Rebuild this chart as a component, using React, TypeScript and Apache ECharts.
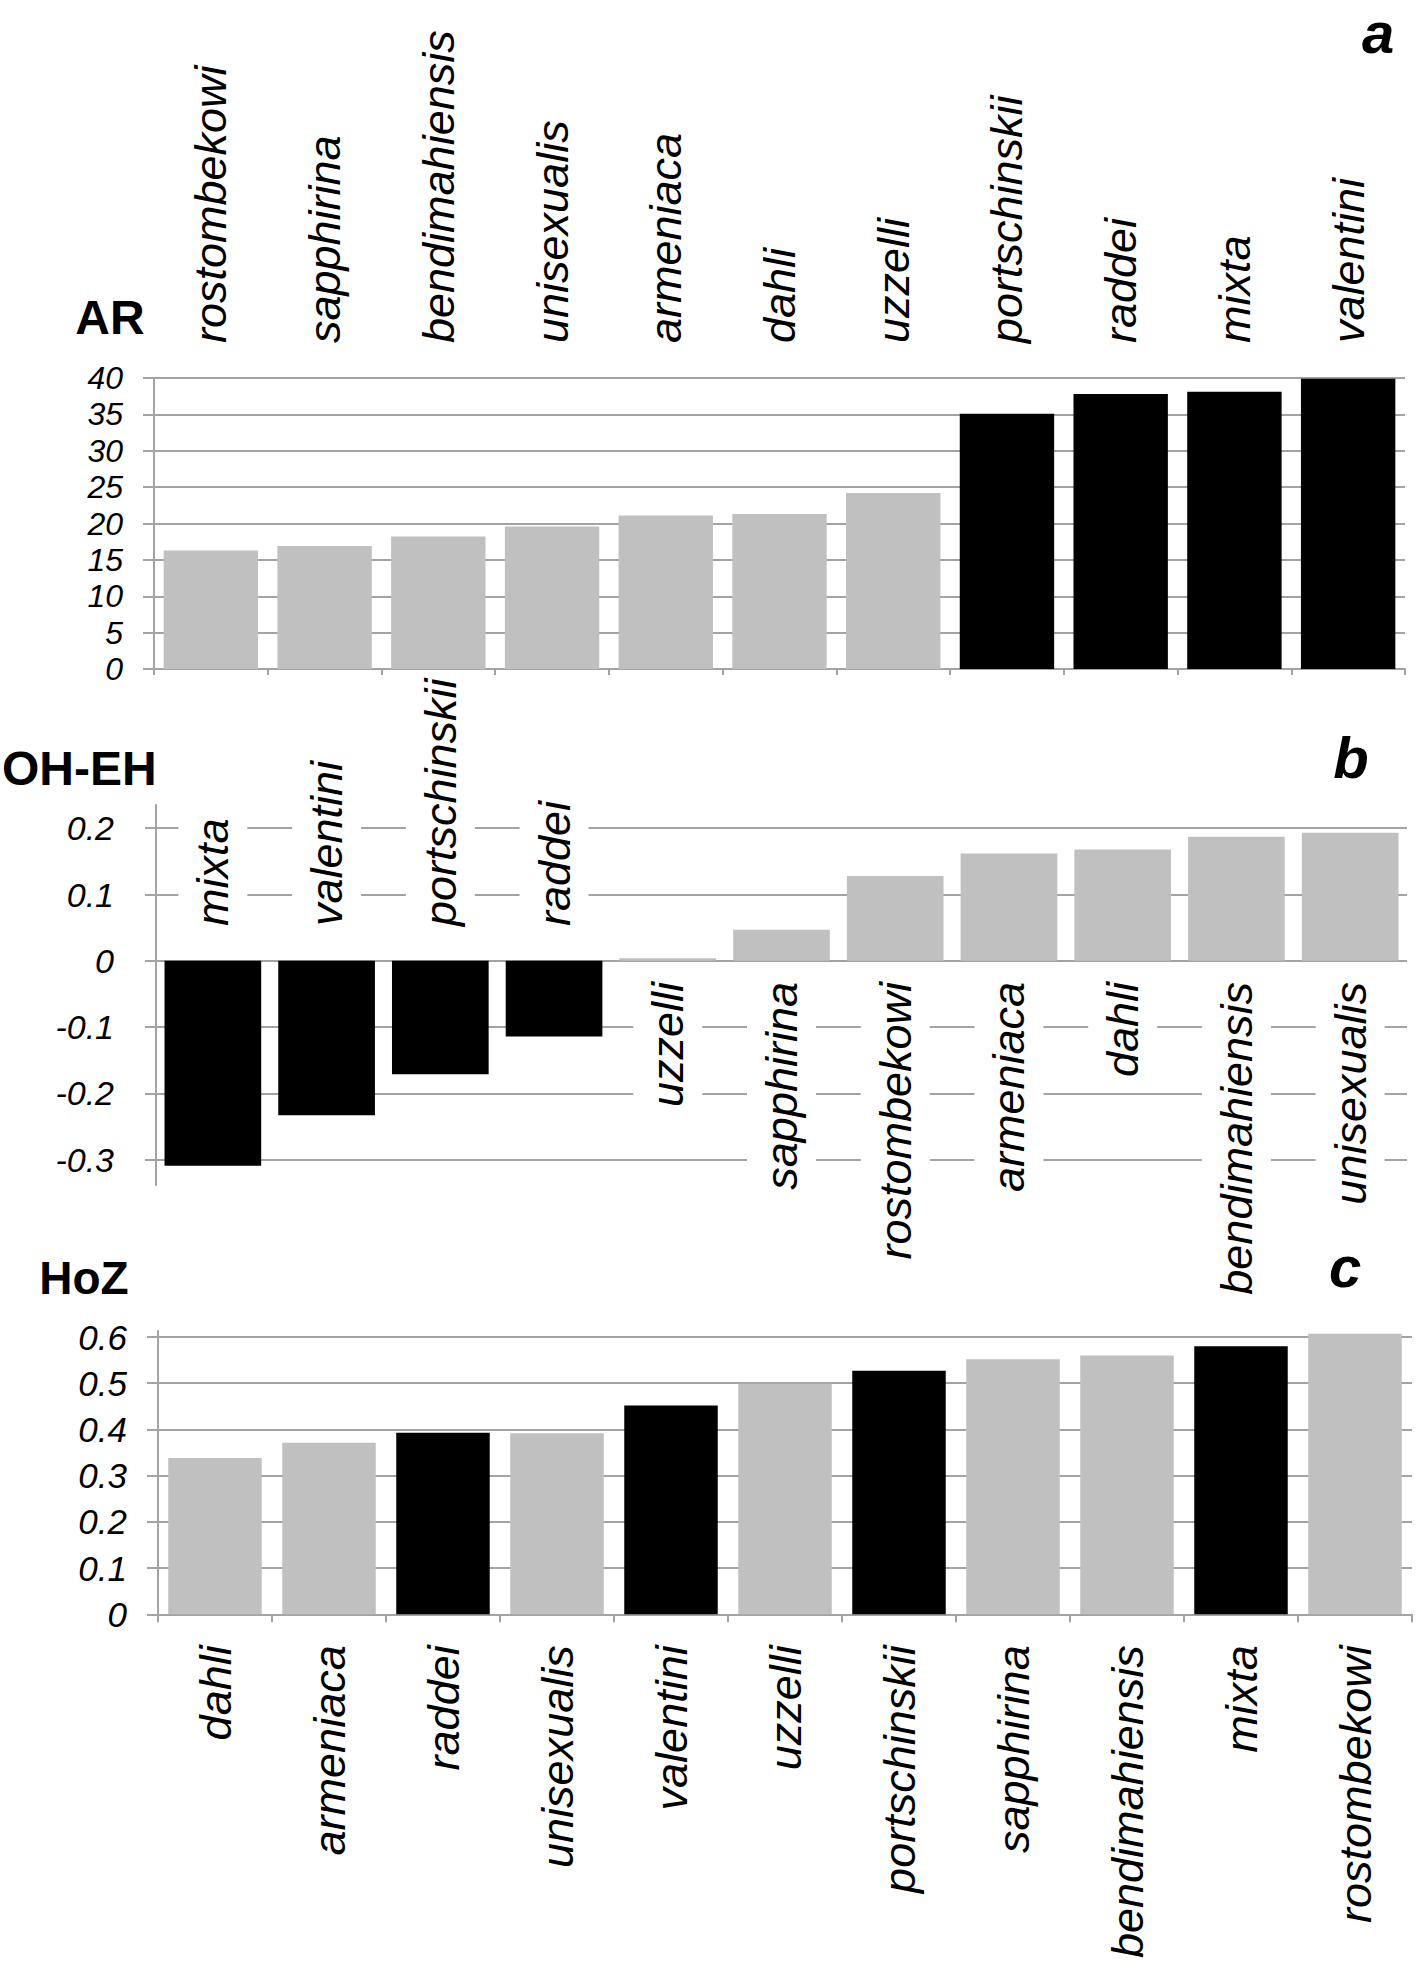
import React, { useEffect, useRef } from 'react';
import * as echarts from 'echarts';

// ---------- data ----------
const arCategories = ['rostombekowi', 'sapphirina', 'bendimahiensis', 'unisexualis', 'armeniaca', 'dahli', 'uzzelli', 'portschinskii', 'raddei', 'mixta', 'valentini'];
const arValues = [16.3, 16.9, 18.2, 19.6, 21.1, 21.3, 24.2, 35.1, 37.8, 38.1, 39.9];

const ohehCategories = ['mixta', 'valentini', 'portschinskii', 'raddei', 'uzzelli', 'sapphirina', 'rostombekowi', 'armeniaca', 'dahli', 'bendimahiensis', 'unisexualis'];
const ohehValues = [-0.309, -0.233, -0.171, -0.114, 0.004, 0.047, 0.128, 0.162, 0.168, 0.187, 0.193];

const hozCategories = ['dahli', 'armeniaca', 'raddei', 'unisexualis', 'valentini', 'uzzelli', 'portschinskii', 'sapphirina', 'bendimahiensis', 'mixta', 'rostombekowi'];
const hozValues = [0.338, 0.371, 0.393, 0.392, 0.452, 0.499, 0.527, 0.552, 0.560, 0.580, 0.607];

const blackSpecies = ['portschinskii', 'raddei', 'mixta', 'valentini'];

const ohehTicks = [-0.3, -0.2, -0.1, 0, 0.1, 0.2];
const hozTicks = [0, 0.1, 0.2, 0.3, 0.4, 0.5, 0.6];

const panelTitles = ['AR', 'OH-EH', 'HoZ'];
const panelLetters = ['a', 'b', 'c'];

// ---------- styles ----------
const FONT = '"Liberation Sans", Arial, Helvetica, sans-serif';
const GRAY_BAR = '#c0c0c0';
const BLACK_BAR = '#000000';
const LINE = '#a3a3a3';
const CAT_SIZE = 45;

const colorFor = (name: string) => (blackSpecies.includes(name) ? BLACK_BAR : GRAY_BAR);
const barData = (cats: string[], vals: number[]) =>
  vals.map((v, i) => ({ value: v, itemStyle: { color: colorFor(cats[i]) } }));

const catLabel = {
  interval: 0,
  fontFamily: FONT,
  fontStyle: 'italic',
  fontSize: CAT_SIZE,
  color: '#000',
};

const richBg = {
  w: { backgroundColor: '#fff', padding: [12, 2], fontFamily: FONT, fontStyle: 'italic', fontSize: CAT_SIZE, color: '#000' },
};

const valueAxisBase = {
  type: 'value',
  axisLine: { show: true, lineStyle: { color: LINE, width: 2 } },
  axisTick: { show: true, length: 11, lineStyle: { color: LINE, width: 2 } },
  splitLine: { show: true, lineStyle: { color: LINE, width: 2 } },
};

const valLabel = (margin: number, size: number) => ({
  fontFamily: FONT,
  fontStyle: 'italic',
  fontSize: size,
  color: '#000',
  margin,
});

// grid geometry (px)
const GA = { left: 154, top: 378, width: 1251, height: 291 };
const GB = { left: 156, top: 805, width: 1251, height: 380 };
const GC = { left: 158, top: 1331, width: 1254, height: 288 };

const option: any = {
  animation: false,
  backgroundColor: '#fff',
  grid: [GA, GB, GC],
  xAxis: [
    // panel a: bottom axis line + ticks
    {
      type: 'category', gridIndex: 0, position: 'bottom', data: arCategories,
      axisLine: { show: true, onZero: false, lineStyle: { color: LINE, width: 2 } },
      axisTick: { show: true, length: 6, lineStyle: { color: LINE, width: 2 } },
      axisLabel: { show: false },
    },
    // panel a: labels on top
    {
      type: 'category', gridIndex: 0, position: 'top', data: arCategories,
      axisLine: { show: false, onZero: false },
      axisTick: { show: false },
      axisLabel: { ...catLabel, rotate: -90, margin: 35 },
    },
    // panel b: labels below the zero line (positive values)
    {
      type: 'category', gridIndex: 1, position: 'bottom', data: ohehCategories, z: 3,
      axisLine: { show: false, onZero: false },
      axisTick: { show: false },
      axisLabel: {
        ...catLabel, rotate: 90, margin: -205,
        formatter: (v: string, i: number) => (ohehValues[i] > 0 ? `{w|${v}}` : ''),
        rich: richBg,
      },
    },
    // panel b: labels above the zero line (negative values)
    {
      type: 'category', gridIndex: 1, position: 'top', data: ohehCategories, z: 3,
      axisLine: { show: false, onZero: false },
      axisTick: { show: false },
      axisLabel: {
        ...catLabel, rotate: -90, margin: -123,
        formatter: (v: string, i: number) => (ohehValues[i] < 0 ? `{w|${v}}` : ''),
        rich: richBg,
      },
    },
    // panel c
    {
      type: 'category', gridIndex: 2, position: 'bottom', data: hozCategories,
      axisLine: { show: true, lineStyle: { color: LINE, width: 2 } },
      axisTick: { show: true, length: 8, lineStyle: { color: LINE, width: 2 } },
      axisLabel: { ...catLabel, rotate: 90, margin: 31 },
    },
  ],
  yAxis: [
    { ...valueAxisBase, gridIndex: 0, min: 0, max: 40, interval: 5, axisLabel: valLabel(31, 32) },
    {
      ...valueAxisBase, gridIndex: 1, min: -0.338, max: 0.235,
      axisTick: { ...valueAxisBase.axisTick, customValues: ohehTicks },
      axisLabel: { ...valLabel(42, 34), customValues: ohehTicks },
    },
    {
      ...valueAxisBase, gridIndex: 2, min: 0, max: 0.613,
      axisTick: { ...valueAxisBase.axisTick, customValues: hozTicks },
      axisLabel: { ...valLabel(31, 35), customValues: hozTicks },
    },
  ],
  series: [
    { type: 'bar', xAxisIndex: 0, yAxisIndex: 0, barCategoryGap: '17%', data: barData(arCategories, arValues) },
    { type: 'bar', xAxisIndex: 2, yAxisIndex: 1, barCategoryGap: '15%', data: barData(ohehCategories, ohehValues) },
    { type: 'bar', xAxisIndex: 4, yAxisIndex: 2, barCategoryGap: '18%', data: barData(hozCategories, hozValues) },
  ],
  graphic: [
    { type: 'text', x: 110, y: 317, style: { text: panelTitles[0], font: `bold 48px ${FONT}`, fill: '#000', align: 'center', verticalAlign: 'middle' } },
    { type: 'text', x: 2, y: 768, style: { text: panelTitles[1], font: `bold 48px ${FONT}`, fill: '#000', align: 'left', verticalAlign: 'middle' } },
    { type: 'text', x: 84, y: 1278, style: { text: panelTitles[2], font: `bold 46px ${FONT}`, fill: '#000', align: 'center', verticalAlign: 'middle' } },
    { type: 'text', x: 1378, y: 32, style: { text: panelLetters[0], font: `italic bold 58px ${FONT}`, fill: '#000', align: 'center', verticalAlign: 'middle' } },
    { type: 'text', x: 1351, y: 757, style: { text: panelLetters[1], font: `italic bold 58px ${FONT}`, fill: '#000', align: 'center', verticalAlign: 'middle' } },
    { type: 'text', x: 1345, y: 1266, style: { text: panelLetters[2], font: `italic bold 58px ${FONT}`, fill: '#000', align: 'center', verticalAlign: 'middle' } },
  ],
};

export default function App() {
  const ref = useRef<HTMLDivElement>(null);
  useEffect(() => {
    if (!ref.current) return;
    const chart = echarts.init(ref.current, null, { renderer: 'svg' });
    chart.setOption(option);
    return () => chart.dispose();
  }, []);
  return (
    <div
      ref={ref}
      style={{ position: 'absolute', left: 0, top: 0, width: 1418, height: 1961, background: '#fff' }}
    />
  );
}
